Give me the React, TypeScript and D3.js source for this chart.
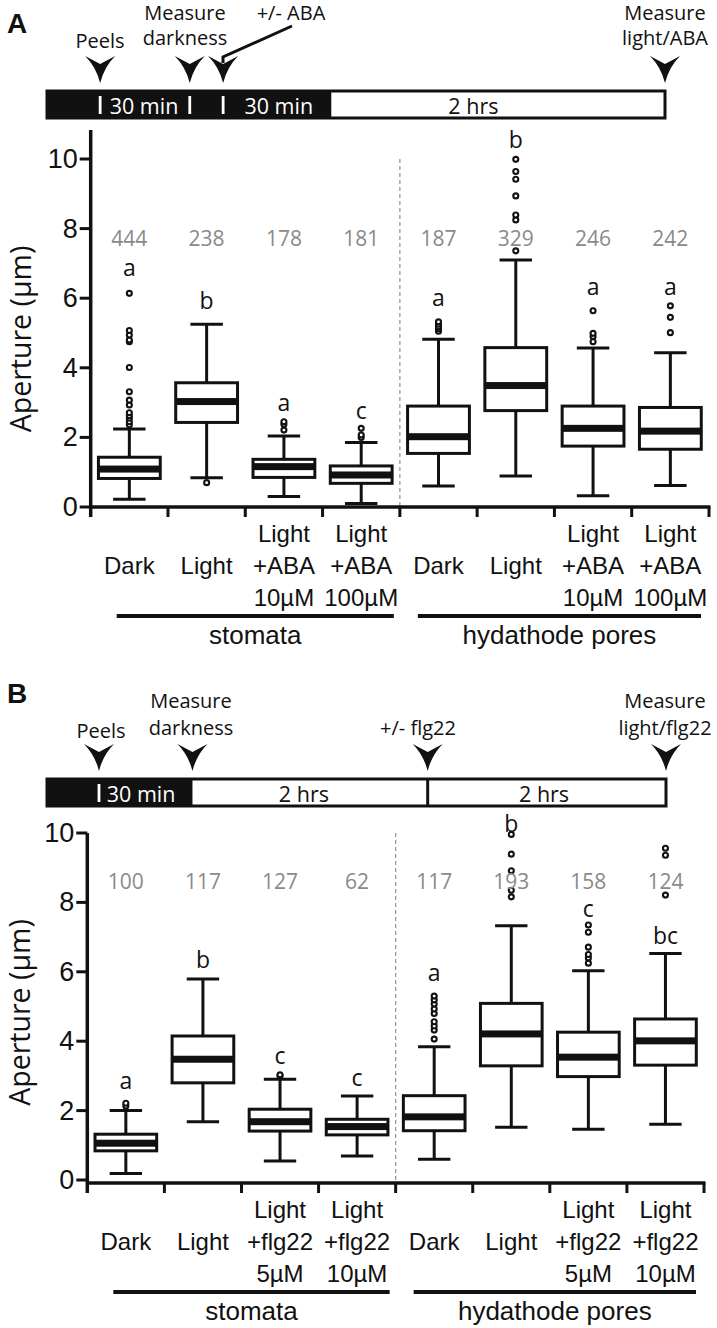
import React from "react";
import * as d3 from "d3";

// ---------- DATA ----------
const labelsA = [["Dark"], ["Light"], ["Light", "+ABA", "10µM"], ["Light", "+ABA", "100µM"], ["Dark"], ["Light"], ["Light", "+ABA", "10µM"], ["Light", "+ABA", "100µM"]];
const labelsB = [["Dark"], ["Light"], ["Light", "+flg22", "5µM"], ["Light", "+flg22", "10µM"], ["Dark"], ["Light"], ["Light", "+flg22", "5µM"], ["Light", "+flg22", "10µM"]];
const groups = ["stomata", "hydathode pores"];
const yTicks = [0, 2, 4, 6, 8, 10];

const q1A = [0.82, 2.43, 0.85, 0.68, 1.54, 2.77, 1.75, 1.66];
const medA = [1.09, 3.03, 1.16, 0.92, 2.02, 3.49, 2.26, 2.18];
const q3A = [1.43, 3.57, 1.37, 1.18, 2.9, 4.58, 2.9, 2.86];
const loA = [0.22, 0.84, 0.3, 0.1, 0.6, 0.89, 0.32, 0.62];
const hiA = [2.24, 5.25, 2.04, 1.85, 4.82, 7.1, 4.57, 4.43];
const outA = [
  [2.36, 2.45, 2.55, 2.62, 2.71, 2.93, 3.07, 3.31, 4.01, 4.75, 4.8, 4.94, 5.07, 6.14],
  [0.7],
  [2.21, 2.38, 2.45],
  [2.0, 2.07, 2.26],
  [5.05, 5.12, 5.18, 5.25, 5.32],
  [7.36, 8.25, 8.39, 8.94, 9.42, 9.64, 9.99],
  [4.75, 4.9, 4.99, 5.64],
  [5.01, 5.45, 5.78],
];
const nA = [444, 238, 178, 181, 187, 329, 246, 242];
const lettersA = ["a", "b", "a", "c", "a", "b", "a", "a"];
const letterValA = [6.9, 5.95, 3.03, 2.79, 6.03, 10.57, 6.35, 6.35];

const q1B = [0.84, 2.8, 1.41, 1.3, 1.42, 3.29, 2.98, 3.31];
const medB = [1.06, 3.48, 1.68, 1.54, 1.82, 4.21, 3.54, 4.01];
const q3B = [1.32, 4.15, 2.04, 1.75, 2.43, 5.09, 4.26, 4.64];
const loB = [0.19, 1.68, 0.55, 0.69, 0.6, 1.52, 1.46, 1.61];
const hiB = [2.0, 5.79, 2.9, 2.42, 3.84, 7.33, 6.03, 6.53];
const outB = [
  [2.13, 2.21],
  [],
  [2.99, 3.03],
  [],
  [4.06, 4.32, 4.44, 4.56, 4.8, 4.93, 5.07, 5.19, 5.3],
  [8.16, 8.35, 8.91, 9.39, 9.96],
  [6.25, 6.4, 6.5, 6.71, 7.14, 7.35],
  [8.21, 9.36, 9.56],
];
const nB = [100, 117, 127, 62, 117, 193, 158, 124];
const lettersB = ["a", "b", "c", "c", "a", "b", "c", "bc"];
const letterValB = [2.88, 6.36, 3.6, 2.98, 6.0, 10.28, 7.85, 7.06];

// timeline (schematic units 0..1 along the bar)
const tlA = {
  blackEnd: 0.46,
  whiteDiv: [0.086, 0.231, 0.285],
  blackDiv: [] as number[],
  texts: [["30 min", 0.157], ["30 min", 0.375], ["2 hrs", 0.69]] as [string, number][],
  arrows: [0.086, 0.231, 0.285, 1.0],
};
const tlB = {
  blackEnd: 0.235,
  whiteDiv: [0.084],
  blackDiv: [0.615],
  texts: [["30 min", 0.152], ["2 hrs", 0.415], ["2 hrs", 0.803]] as [string, number][],
  arrows: [0.084, 0.235, 0.615, 1.0],
};

const SANS = "'Liberation Sans', Arial, sans-serif";
const MYR = "'Open Sans', 'Noto Sans', sans-serif";
const GRAY = "#8a8a8a";

function Arrowhead({ cx, top }: { cx: number; top: number }) {
  const w = 15, tip = top + 27;
  const d = `M${cx - w},${top} L${cx},${top + 8} L${cx + w},${top} Q${cx + 4},${top + 11} ${cx},${tip} Q${cx - 4},${top + 11} ${cx - w},${top} Z`;
  return <path d={d} fill="#111" />;
}

function Timeline({ cfg, x0, x1, y0, y1, arrowTop }: any) {
  const t = d3.scaleLinear().domain([0, 1]).range([x0, x1]);
  const mid = (y0 + y1) / 2;
  return (
    <g>
      <rect x={t(0)} y={y0} width={t(1) - t(0)} height={y1 - y0} fill="white" stroke="#111" strokeWidth={3} />
      <rect x={t(0)} y={y0} width={t(cfg.blackEnd) - t(0)} height={y1 - y0} fill="#111" />
      {cfg.whiteDiv.map((f: number, i: number) => (
        <line key={"w" + i} x1={t(f)} x2={t(f)} y1={y0 + 5} y2={y1 - 4} stroke="white" strokeWidth={2.8} />
      ))}
      {cfg.blackDiv.map((f: number, i: number) => (
        <line key={"b" + i} x1={t(f)} x2={t(f)} y1={y0} y2={y1} stroke="#111" strokeWidth={3} />
      ))}
      {cfg.texts.map(([s, f]: [string, number], i: number) => (
        <text key={"t" + i} x={t(f)} y={mid + 1} dominantBaseline="central" textAnchor="middle" fontFamily={MYR} fontSize={21.5} fill={f < cfg.blackEnd ? "white" : "#111"}>{s}</text>
      ))}
      {cfg.arrows.map((f: number, i: number) => (
        <Arrowhead key={"a" + i} cx={t(f)} top={arrowTop} />
      ))}
    </g>
  );
}

function BoxPanel({ x0, x1, y0, y10, axisTop, axisOff, labels, q1, med, q3, lo, hi, out, n, letters, letterVal, nVal, titleX }: any) {
  const idx = d3.range(8);
  const x = d3.scaleBand<number>().domain(idx).range([x0, x1]).padding(0);
  const y = d3.scaleLinear().domain([0, 10]).range([y0, y10]);
  const bw = x.bandwidth();
  const boxW = bw * 0.8;
  const capW = bw * 0.42;
  const axY = y0 + axisOff;
  const cx = (i: number) => (x(i) as number) + bw / 2;
  return (
    <g>
      <line x1={x(4)} x2={x(4)} y1={y(10)} y2={axY} stroke="#999" strokeWidth={1.3} strokeDasharray="4,3" />
      {idx.map((i) => (
        <g key={i}>
          <line x1={cx(i)} x2={cx(i)} y1={y(hi[i])} y2={y(q3[i])} stroke="#111" strokeWidth={3} />
          <line x1={cx(i)} x2={cx(i)} y1={y(q1[i])} y2={y(lo[i])} stroke="#111" strokeWidth={3} />
          <line x1={cx(i) - capW / 2} x2={cx(i) + capW / 2} y1={y(hi[i])} y2={y(hi[i])} stroke="#111" strokeWidth={3} />
          <line x1={cx(i) - capW / 2} x2={cx(i) + capW / 2} y1={y(lo[i])} y2={y(lo[i])} stroke="#111" strokeWidth={3} />
          <rect x={cx(i) - boxW / 2} y={y(q3[i])} width={boxW} height={y(q1[i]) - y(q3[i])} fill="white" stroke="#111" strokeWidth={3} />
          <rect x={cx(i) - boxW / 2} y={y(med[i]) - 3.5} width={boxW} height={7} fill="#111" />
          {out[i].map((v: number, j: number) => (
            <circle key={j} cx={cx(i)} cy={y(v)} r={2.5} fill="white" stroke="#111" strokeWidth={2.1} />
          ))}
          <text x={cx(i)} y={y(nVal)} dominantBaseline="central" textAnchor="middle" fontFamily={MYR} fontSize={21} fill={GRAY}>{n[i]}</text>
          <text x={cx(i)} y={y(letterVal[i])} dominantBaseline="central" textAnchor="middle" fontFamily={MYR} fontSize={23} fill="#111">{letters[i]}</text>
          {labels[i].map((s: string, k: number) => {
            const row = labels[i].length === 1 ? 1 : k;
            return (
              <text key={k} x={cx(i)} y={axY + 26 + row * 32} dominantBaseline="central" textAnchor="middle" fontFamily={SANS} fontSize={24} fill="#111">{s}</text>
            );
          })}
        </g>
      ))}
      <line x1={x0} x2={x0} y1={axisTop} y2={axY + 10} stroke="#111" strokeWidth={3.5} />
      <line x1={x0} x2={x1 + 1.5} y1={axY} y2={axY} stroke="#111" strokeWidth={3.5} />
      {d3.range(1, 9).map((k) => (
        <line key={k} x1={x0 + k * bw} x2={x0 + k * bw} y1={axY} y2={axY + 10} stroke="#111" strokeWidth={3} />
      ))}
      {yTicks.map((v) => (
        <g key={v}>
          <line x1={x0 - 11} x2={x0} y1={y(v)} y2={y(v)} stroke="#111" strokeWidth={3} />
          <text x={x0 - 13} y={y(v)} dominantBaseline="central" textAnchor="end" fontFamily={SANS} fontSize={27} fill="#111">{v}</text>
        </g>
      ))}
      <text transform={`translate(${titleX},${(y(0) + y(10)) / 2 + 6}) rotate(-90)`} textAnchor="middle" dominantBaseline="central" fontFamily={MYR} fontSize={28.5} fill="#111">Aperture (µm)</text>
      <line x1={x0 + 26} x2={x0 + 4 * bw - 6} y1={axY + 109} y2={axY + 109} stroke="#111" strokeWidth={4} />
      <line x1={x0 + 4 * bw + 18} x2={x0 + 8 * bw - 8} y1={axY + 109} y2={axY + 109} stroke="#111" strokeWidth={4} />
      <text x={(x0 + 26 + x0 + 4 * bw - 6) / 2} y={axY + 128} dominantBaseline="central" textAnchor="middle" fontFamily={SANS} fontSize={26} fill="#111">{groups[0]}</text>
      <text x={(x0 + 4 * bw + 18 + x0 + 8 * bw - 8) / 2} y={axY + 128} dominantBaseline="central" textAnchor="middle" fontFamily={SANS} fontSize={26} fill="#111">{groups[1]}</text>
    </g>
  );
}

export default function App() {
  return (
    <svg width={717} height={1328} style={{ position: "absolute", left: 0, top: 0, background: "white" }}>
      {/* Panel A */}
      <text x={7} y={33} fontFamily={SANS} fontWeight="bold" fontSize={28} fill="#111">A</text>
      <Timeline cfg={tlA} x0={47} x1={665} y0={91} y1={118} arrowTop={56} />
      <g fontFamily={MYR} fontSize={20} fill="#111" textAnchor="middle">
        <text x={100} y={48}>Peels</text>
        <text x={185} y={20}>Measure</text>
        <text x={185} y={45}>darkness</text>
        <text x={291} y={20}>+/- ABA</text>
        <text x={665} y={20}>Measure</text>
        <text x={665} y={45}>light/ABA</text>
      </g>
      <path d="M223,63 L223,57 L292,26" fill="none" stroke="#111" strokeWidth={3} />
      <BoxPanel x0={90.7} x1={709} y0={507} y10={159} axisTop={130} axisOff={0} labels={labelsA} titleX={20}
        q1={q1A} med={medA} q3={q3A} lo={loA} hi={hiA} out={outA} n={nA} letters={lettersA} letterVal={letterValA} nVal={7.73} />

      {/* Panel B */}
      <text x={7} y={703} fontFamily={SANS} fontWeight="bold" fontSize={28} fill="#111">B</text>
      <Timeline cfg={tlB} x0={47} x1={666} y0={779} y1={806} arrowTop={744} />
      <g fontFamily={MYR} fontSize={20} fill="#111" textAnchor="middle">
        <text x={101} y={738}>Peels</text>
        <text x={191} y={708}>Measure</text>
        <text x={191} y={735}>darkness</text>
        <text x={418} y={735}>+/- flg22</text>
        <text x={665} y={708}>Measure</text>
        <text x={665} y={735}>light/flg22</text>
      </g>
      <BoxPanel x0={87.3} x1={704} y0={1180} y10={833} axisTop={833} axisOff={3} labels={labelsB} titleX={19}
        q1={q1B} med={medB} q3={q3B} lo={loB} hi={hiB} out={outB} n={nB} letters={lettersB} letterVal={letterValB} nVal={8.62} />
    </svg>
  );
}
